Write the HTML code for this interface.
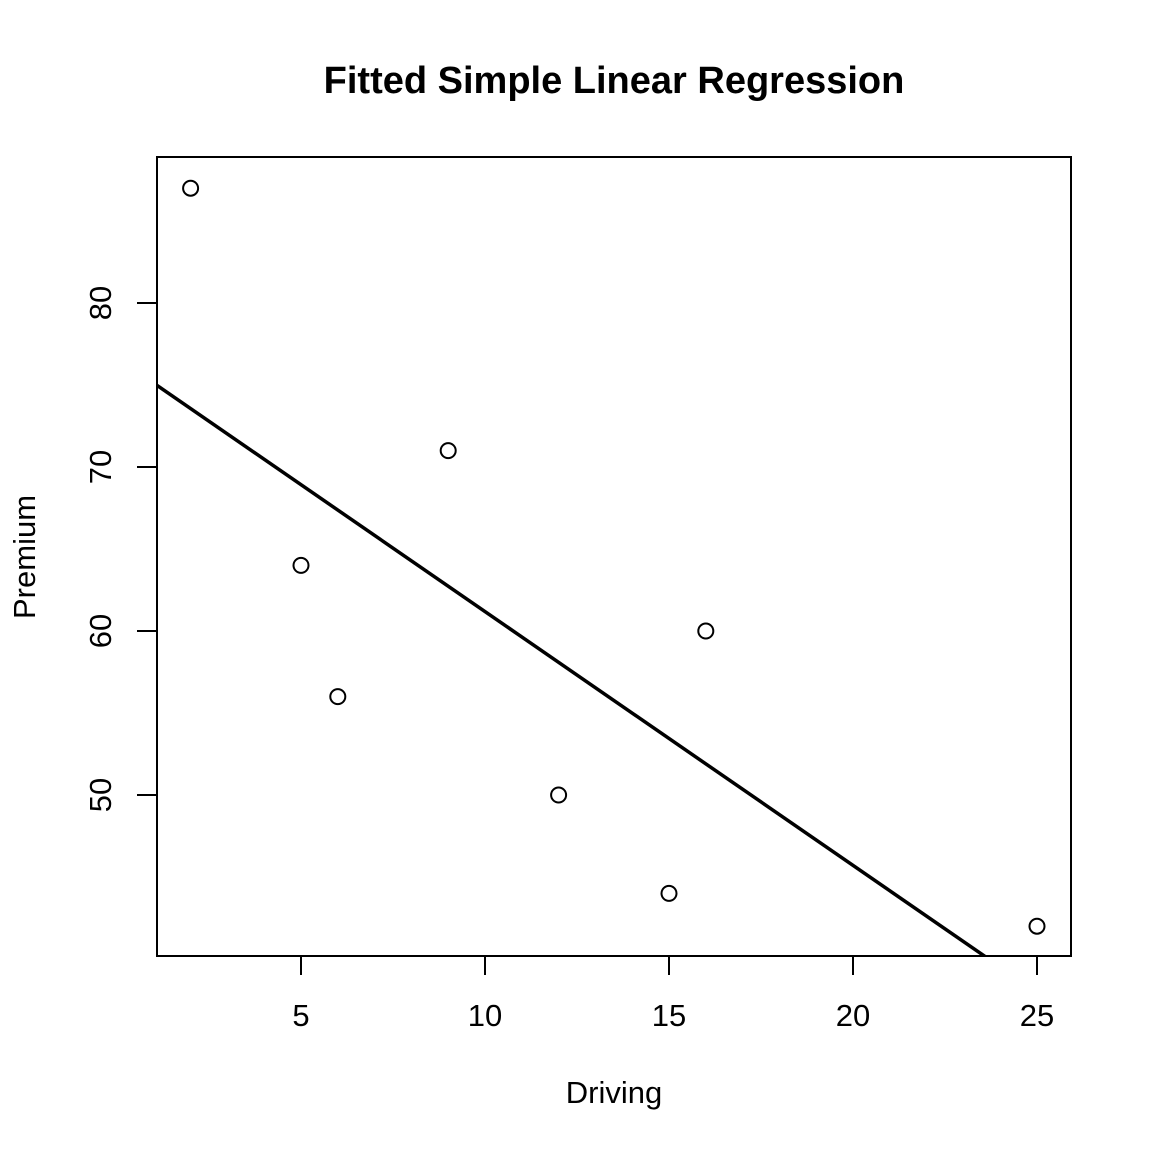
<!DOCTYPE html>
<html><head><meta charset="utf-8"><style>html,body{margin:0;background:#fff;overflow:hidden;width:1152px;height:1152px}svg{display:block}text{font-family:"Liberation Sans",sans-serif;fill:#000}</style></head>
<body>
<svg id="chart" width="1152" height="1152" viewBox="0 0 1152 1152" xmlns="http://www.w3.org/2000/svg">
<rect width="1152" height="1152" fill="#fff"/>
<text x="614" y="93" font-size="38" font-weight="bold" text-anchor="middle">Fitted Simple Linear Regression</text>
<text x="614" y="1103" font-size="31" text-anchor="middle">Driving</text>
<text transform="translate(35,557) rotate(-90)" font-size="31" text-anchor="middle">Premium</text>
<defs><clipPath id="pc"><rect x="157" y="157" width="914" height="799"/></clipPath></defs>
<g id="marks"></g>
<rect x="157" y="157" width="914" height="799" fill="none" stroke="#000" stroke-width="2"/>
</svg>
<script>
const driving=[2,5,6,9,12,15,16,25];
const premium=[87,64,56,71,50,44,60,42];
const xTicks=[5,10,15,20,25];
const yTicks=[50,60,70,80];
const ns="http://www.w3.org/2000/svg";
const sx=v=>117+36.8*v;
const sy=v=>1615-16.4*v;
const g=document.getElementById('marks');
function mk(t,a,p){const e=document.createElementNS(ns,t);for(const k in a)e.setAttribute(k,a[k]);(p||g).appendChild(e);return e;}
xTicks.forEach(v=>{
 const l=mk('line',{x1:sx(v),x2:sx(v),y1:956,y2:975,stroke:'#000','stroke-width':2});
 
 
 const t=mk('text',{x:sx(v),y:1026,'font-size':31,'text-anchor':'middle'});t.textContent=v;
 
 
});
yTicks.forEach(v=>{
 const l=mk('line',{x1:137,x2:157,y1:sy(v),y2:sy(v),stroke:'#000','stroke-width':2});
 
 
 const t=mk('text',{transform:`translate(111,${sy(v)}) rotate(-90)`,'font-size':31,'text-anchor':'middle'});t.textContent=v;
 
 
});
const n=driving.length,mx=driving.reduce((a,b)=>a+b)/n,my=premium.reduce((a,b)=>a+b)/n;
let sxy=0,sxx=0;for(let i=0;i<n;i++){sxy+=(driving[i]-mx)*(premium[i]-my);sxx+=(driving[i]-mx)**2;}
const b=sxy/sxx,a=my-b*mx;
const rl=mk('line',{x1:sx(-5),y1:sy(a+b*-5),x2:sx(40),y2:sy(a+b*40),stroke:'#000','stroke-width':3.5,'clip-path':'url(#pc)'});


driving.forEach((x,i)=>{
 const c=mk('circle',{cx:sx(x),cy:sy(premium[i]),r:7.5,fill:'none',stroke:'#000','stroke-width':2});
 
 
});
</script>
</body></html>
